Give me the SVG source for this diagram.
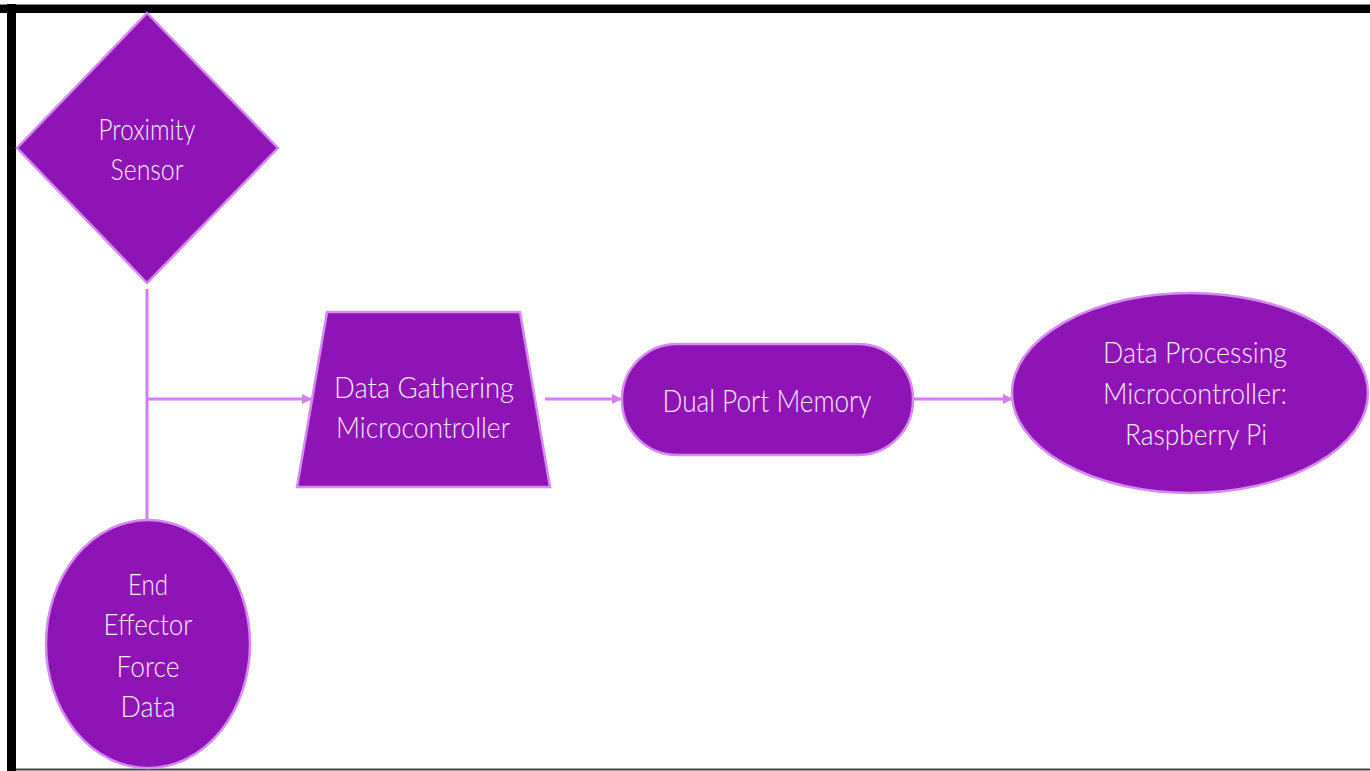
<svg xmlns="http://www.w3.org/2000/svg" width="1370" height="771" viewBox="0 0 1370 771">
<defs>
<style>
.node{fill:#8E14B6;stroke:#D48AF0;stroke-width:2.5}
.lbl{font-family:Lato,"Open Sans","Liberation Sans",sans-serif;font-weight:300;fill:#F6EAFB;text-anchor:middle}
.conn{stroke:#D47EF2;stroke-width:3;fill:none}
.shadow{stroke:#888;stroke-opacity:0.35;stroke-width:4;fill:none}
</style>
<marker id="arr" viewBox="0 0 10 10" refX="9" refY="5" markerWidth="3.4" markerHeight="3.4" orient="auto" markerUnits="strokeWidth">
<path d="M0,0 L10,5 L0,10 Z" fill="#D47EF2"/>
</marker>
<filter id="blur" x="-10%" y="-200%" width="120%" height="500%"><feGaussianBlur stdDeviation="1.5"/></filter>
</defs>
<rect width="1370" height="771" fill="#FFFFFF"/>
<g id="frame">
<rect x="0" y="4" width="1370" height="9" fill="#000"/>
<line x1="0" y1="4.5" x2="1370" y2="4.5" stroke="#888" stroke-width="1"/>
<rect x="7" y="4" width="9" height="767" fill="#000"/>
<line x1="16" y1="769.5" x2="1370" y2="769.5" stroke="#444" stroke-width="2"/>
</g>
<g id="connectors">
<g filter="url(#blur)">
<line class="shadow" x1="147" y1="403" x2="304" y2="403"/>
<line class="shadow" x1="548" y1="403" x2="614" y2="403"/>
<line class="shadow" x1="914" y1="403" x2="1004" y2="403"/>
</g>
<line class="conn" x1="147" y1="289" x2="147" y2="521"/>
<line class="conn" x1="147" y1="399" x2="311" y2="399" marker-end="url(#arr)"/>
<line class="conn" x1="545" y1="399" x2="621" y2="399" marker-end="url(#arr)"/>
<line class="conn" x1="914" y1="399" x2="1012" y2="399" marker-end="url(#arr)"/>
</g>
<g id="proximity-sensor">
<polygon class="node" points="147,13 278,148 147,283 17,148"/>
<text class="lbl" x="147" y="140" font-size="30" textLength="97" lengthAdjust="spacingAndGlyphs">Proximity</text>
<text class="lbl" x="147" y="180" font-size="30" textLength="73" lengthAdjust="spacingAndGlyphs">Sensor</text>
</g>
<g id="end-effector">
<ellipse class="node" cx="148" cy="644" rx="102" ry="124"/>
<text class="lbl" x="148" y="595" font-size="30" textLength="40" lengthAdjust="spacingAndGlyphs">End</text>
<text class="lbl" x="148" y="635" font-size="30" textLength="89" lengthAdjust="spacingAndGlyphs">Effector</text>
<text class="lbl" x="148" y="677" font-size="30" textLength="63" lengthAdjust="spacingAndGlyphs">Force</text>
<text class="lbl" x="148" y="717" font-size="30" textLength="55" lengthAdjust="spacingAndGlyphs">Data</text>
</g>
<g id="data-gathering">
<polygon class="node" points="327,312 520,312 550,487 297,487"/>
<text class="lbl" x="424" y="398" font-size="29" textLength="180" lengthAdjust="spacingAndGlyphs">Data Gathering</text>
<text class="lbl" x="423" y="438" font-size="29" textLength="174" lengthAdjust="spacingAndGlyphs">Microcontroller</text>
</g>
<g id="dual-port-memory">
<rect class="node" x="622" y="344" width="291" height="111" rx="55" ry="55"/>
<text class="lbl" x="767" y="412" font-size="31" textLength="209" lengthAdjust="spacingAndGlyphs">Dual Port Memory</text>
</g>
<g id="data-processing">
<ellipse class="node" cx="1190" cy="393" rx="178" ry="100"/>
<text class="lbl" x="1195" y="363" font-size="29" textLength="184" lengthAdjust="spacingAndGlyphs">Data Processing</text>
<text class="lbl" x="1195" y="404" font-size="29" textLength="184" lengthAdjust="spacingAndGlyphs">Microcontroller:</text>
<text class="lbl" x="1196" y="445" font-size="29" textLength="142" lengthAdjust="spacingAndGlyphs">Raspberry Pi</text>
</g>
</svg>
